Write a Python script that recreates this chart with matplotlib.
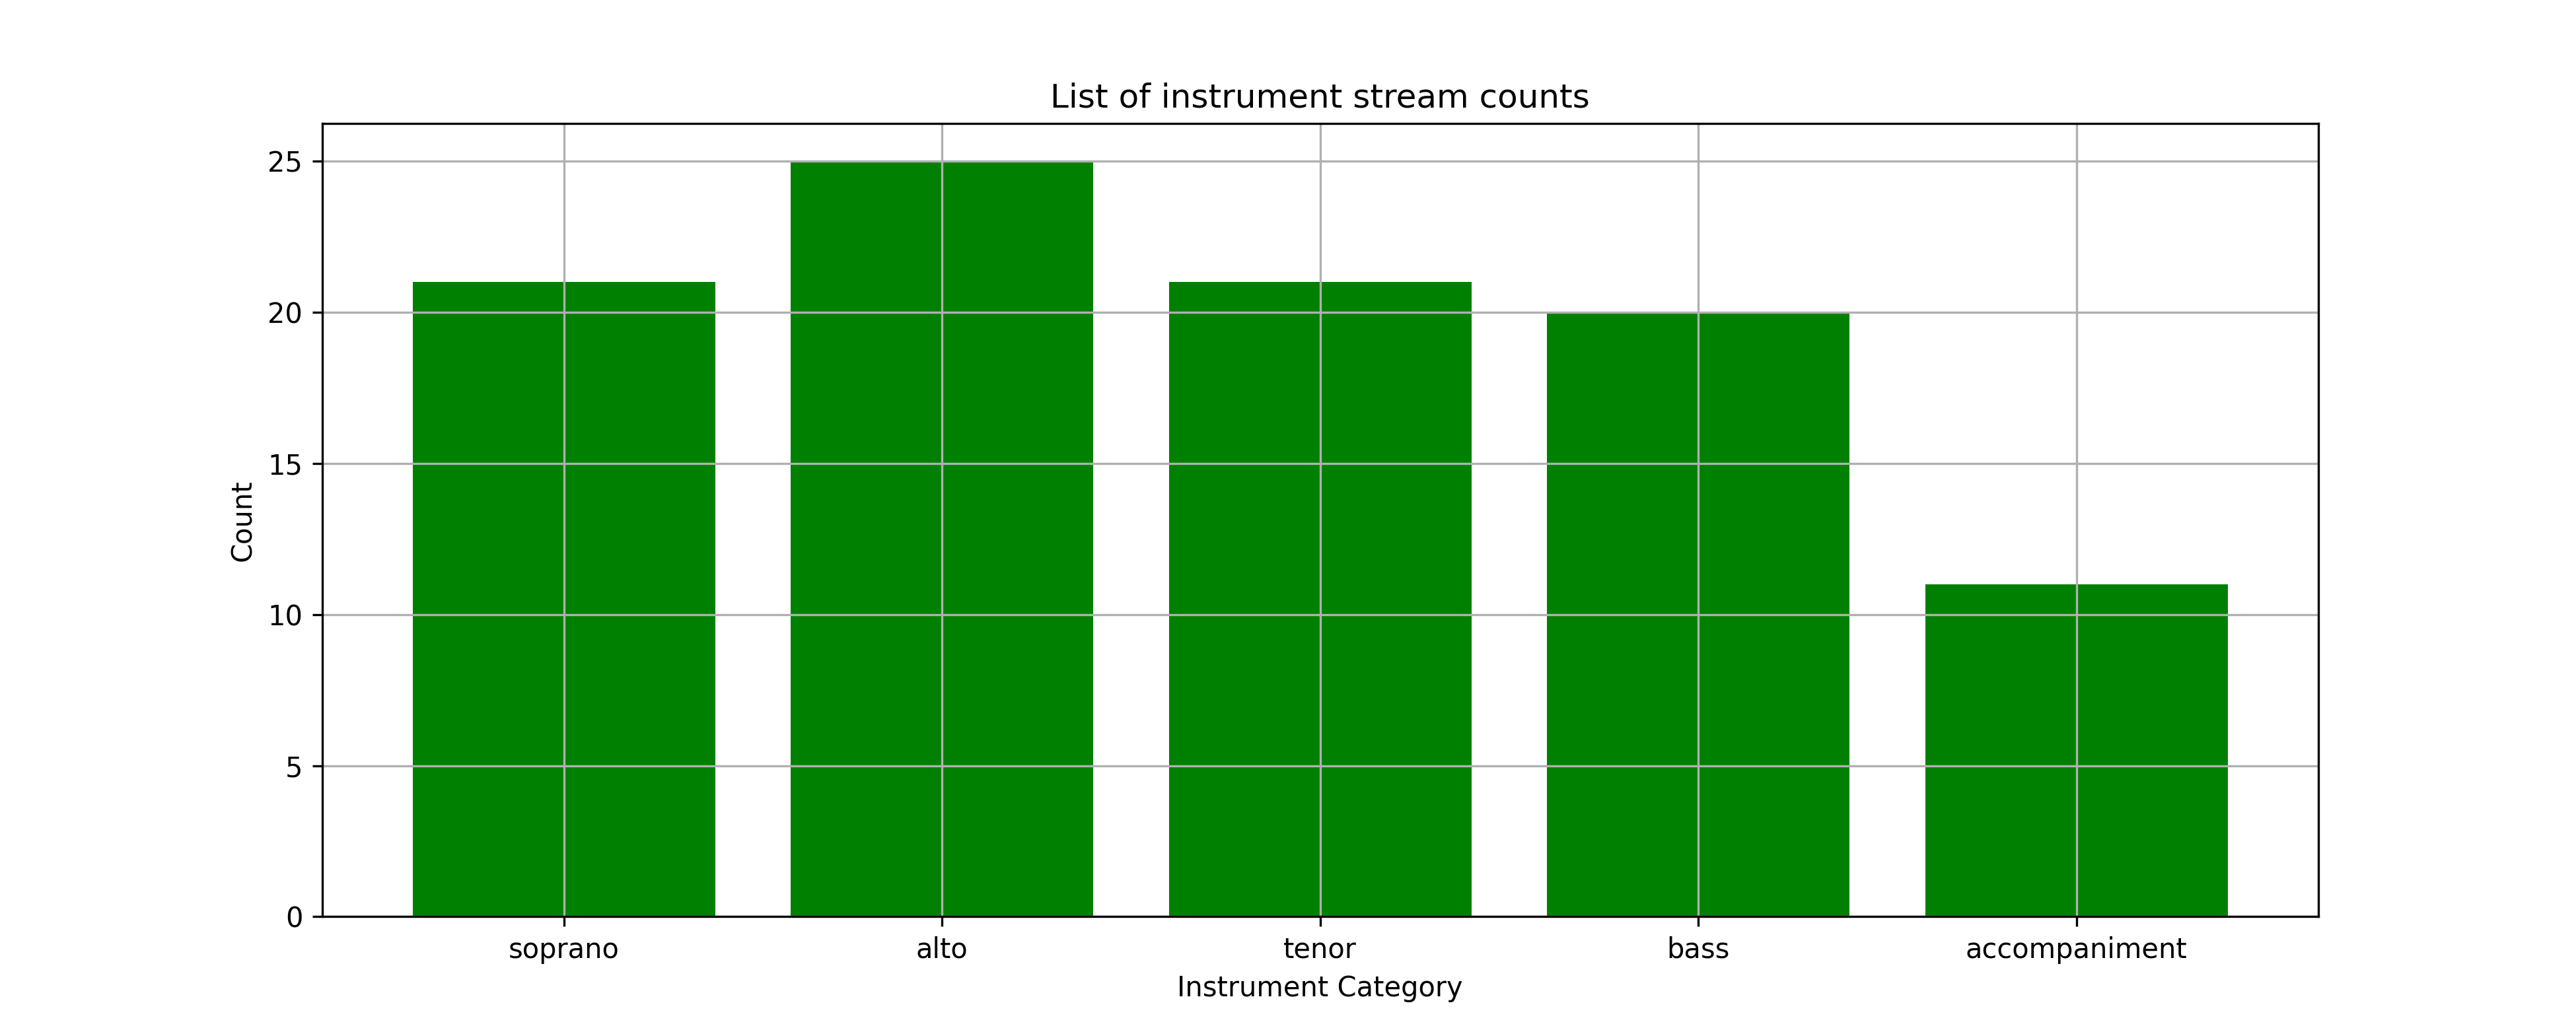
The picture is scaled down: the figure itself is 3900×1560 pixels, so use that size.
import matplotlib
matplotlib.use("Agg")
import matplotlib.pyplot as plt

categories = ["soprano", "alto", "tenor", "bass", "accompaniment"]
counts = [21, 25, 21, 20, 11]

fig, ax = plt.subplots(figsize=(13, 5.2), dpi=300)
ax.bar(categories, counts, color="green")
ax.set_title("List of instrument stream counts")
ax.set_xlabel("Instrument Category")
ax.set_ylabel("Count")
ax.grid(True)
fig.savefig("out.png")
